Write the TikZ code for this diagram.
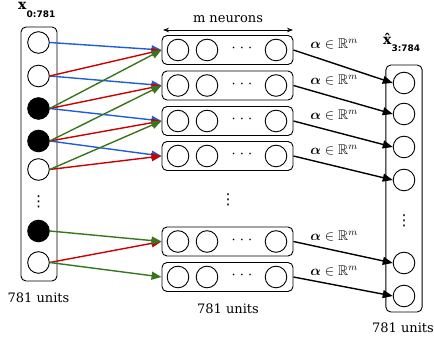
\RequirePackage{fix-cm}
\documentclass[tikz,border=0pt]{standalone}
\usepackage{amsmath}
\usepackage{amssymb}
\usepackage{fontspec}
\setmainfont{DejaVu Serif}
\newfontfamily\subf{DejaVu Sans}
\usetikzlibrary{arrows.meta}
\definecolor{cblue}{RGB}{31,95,214}
\definecolor{cred}{RGB}{204,0,0}
\definecolor{cgreen}{RGB}{56,118,29}
\begin{document}
\begin{tikzpicture}[x=1pt,y=-1pt,
  font=\fontsize{13}{15}\selectfont,
  neu/.style={circle,draw,line width=0.9pt,minimum size=21.6pt,inner sep=0pt},
  fneu/.style={neu,fill=black},
  colbox/.style={draw,rounded corners=5pt,line width=0.9pt,inner sep=0pt},
  conn/.style={line width=1.4pt,-{Triangle[length=10pt,width=8pt]}},
  lbl/.style={anchor=base,inner sep=0pt},
  mlbl/.style={anchor=base,inner sep=0pt,font=\fontsize{14}{16}\selectfont},
  hdots/.style={inner sep=0pt},
  vdts/.style={inner sep=0pt,font=\subf\fontsize{15}{16}\selectfont}]
\useasboundingbox (0,0) rectangle (434,344);
% titles
\node[anchor=base west,inner sep=0pt] (tl) at (18,9.5) {{\fontsize{14}{15}\selectfont\textbf{x}}\raisebox{-8.5pt}{\subf\bfseries\fontsize{9}{10}\selectfont 0:781}};
\node[anchor=base west,inner sep=0pt] (tr) at (383,45) {{\fontsize{14}{15}\selectfont\textbf{\^x}}\raisebox{-7pt}{\subf\bfseries\fontsize{9}{10}\selectfont 3:784}};
% left column
\node[colbox,minimum width=36pt,minimum height=254pt] (lbox) at (39,154) {};
\node[neu]  (l1) at (38.5,42.5) {};
\node[neu]  (l2) at (38.5,76) {};
\node[fneu] (l3) at (38.5,108.5) {};
\node[fneu] (l4) at (38.5,141) {};
\node[neu]  (l5) at (38.5,169.5) {};
\node[vdts] (ld) at (38.5,201.5) {⋮};
\node[fneu] (l6) at (38.5,231) {};
\node[neu]  (l7) at (38.5,262.5) {};
\node[lbl] (lu) at (38.5,303) {781 units};
% middle rows
\foreach \i/\y in {1/50,2/85.5,3/121,4/156,5/241.5,6/277}{
  \node[colbox,minimum width=131pt,minimum height=29pt] (m\i) at (227.5,\y) {};
  \node[neu] (m\i a) at (178,\y) {};
  \node[neu] (m\i b) at (207,\y) {};
  \node[hdots] (m\i d) at (242,\y) {·\hspace{4.1pt}·\hspace{4.1pt}·};
  \node[neu] (m\i c) at (276,\y) {};
}
\node[vdts] (md) at (228,200) {⋮};
\node[lbl] (mu) at (228,314) {781 units};
\coordinate (na) at (163,30);
\coordinate (nb) at (293,30);
\draw[line width=0.8pt,{Stealth[length=6pt,width=4.5pt]}-{Stealth[length=6pt,width=4.5pt]}] (na) -- (nb);
\node[lbl] (mn) at (228,22.5) {m neurons};
% right column
\node[colbox,minimum width=36.3pt,minimum height=247pt] (rbox) at (404,188.5) {};
\node[neu] (r1) at (404,83) {};
\node[neu] (r2) at (404,114) {};
\node[neu] (r3) at (404,147) {};
\node[neu] (r4) at (404,180) {};
\node[vdts] (rd) at (404,221) {⋮};
\node[neu] (r5) at (404,263) {};
\node[neu] (r6) at (404,296) {};
\node[lbl] (ru) at (403,333) {781 units};
% colored connectors
\foreach \a/\b in {1/1,2/2,3/3,4/4} \draw[conn,cblue] (l\a.east) -- (m\b.west);
\foreach \a/\b in {2/1,3/2,4/3,5/4,7/5} \draw[conn,cred] (l\a.east) -- (m\b.west);
\foreach \a/\b in {3/1,4/2,5/3,6/5,7/6} \draw[conn,cgreen] (l\a.east) -- (m\b.west);
% black connectors
\foreach \i/\y in {1/50,2/85.5,3/121,4/156,5/241.5,6/277}{
  \draw[conn,black] (m\i.east) -- (r\i.west);
  \node[mlbl] (a\i) at (334,\y-1) {$\boldsymbol{\alpha}\in\mathbb{R}^m$};
}
\end{tikzpicture}
\end{document}
